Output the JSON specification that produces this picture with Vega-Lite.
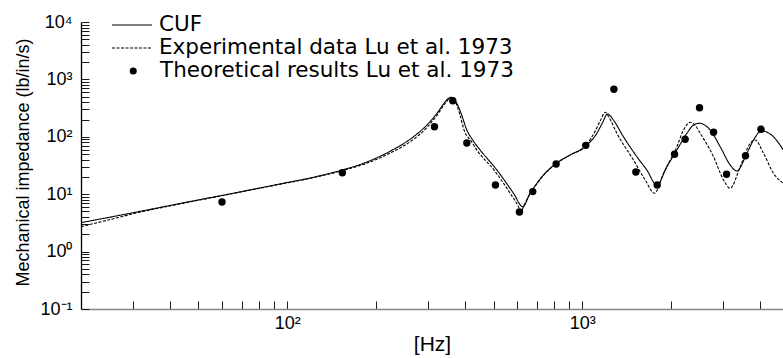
{
  "$schema": "https://vega.github.io/schema/vega-lite/v6.json",
  "width": 702,
  "height": 287,
  "autosize": {"type": "none"},
  "padding": {"left": 81, "top": 22, "right": 0, "bottom": 49},
  "background": "white",
  "config": {
    "view": {"stroke": null},
    "axis": {
      "grid": false,
      "labelFont": "Liberation Sans",
      "labelFontSize": 18,
      "labelColor": "black",
      "titleFont": "Liberation Sans",
      "titleFontWeight": "normal",
      "titleColor": "black",
      "labelOverlap": false,
      "labelFlush": false
    }
  },
  "datasets": {
    "curves": [
      {"series": "CUF", "f": 20, "z": 3.19},
      {"series": "CUF", "f": 30, "z": 4.75},
      {"series": "CUF", "f": 40, "z": 6.35},
      {"series": "CUF", "f": 50, "z": 7.95},
      {"series": "CUF", "f": 60, "z": 9.5},
      {"series": "CUF", "f": 75, "z": 11.9},
      {"series": "CUF", "f": 94.5, "z": 15.1},
      {"series": "CUF", "f": 122.6, "z": 19.7},
      {"series": "CUF", "f": 139.6, "z": 23.2},
      {"series": "CUF", "f": 153.8, "z": 26.5},
      {"series": "CUF", "f": 181.1, "z": 34.5},
      {"series": "CUF", "f": 223.1, "z": 56},
      {"series": "CUF", "f": 267.6, "z": 100},
      {"series": "CUF", "f": 297.2, "z": 160},
      {"series": "CUF", "f": 321.2, "z": 255},
      {"series": "CUF", "f": 342.7, "z": 405},
      {"series": "CUF", "f": 352, "z": 470},
      {"series": "CUF", "f": 360, "z": 488},
      {"series": "CUF", "f": 366, "z": 460},
      {"series": "CUF", "f": 375.5, "z": 383},
      {"series": "CUF", "f": 390, "z": 240},
      {"series": "CUF", "f": 406.1, "z": 131},
      {"series": "CUF", "f": 425, "z": 88},
      {"series": "CUF", "f": 450.4, "z": 58.9},
      {"series": "CUF", "f": 513.2, "z": 26.4},
      {"series": "CUF", "f": 584.2, "z": 10.4},
      {"series": "CUF", "f": 628.5, "z": 6.06},
      {"series": "CUF", "f": 665.4, "z": 10.5},
      {"series": "CUF", "f": 679.5, "z": 12.3},
      {"series": "CUF", "f": 738.3, "z": 21.6},
      {"series": "CUF", "f": 815.2, "z": 34.5},
      {"series": "CUF", "f": 908.9, "z": 48.2},
      {"series": "CUF", "f": 1027.7, "z": 69.1},
      {"series": "CUF", "f": 1119.8, "z": 115},
      {"series": "CUF", "f": 1170, "z": 175},
      {"series": "CUF", "f": 1216.5, "z": 250},
      {"series": "CUF", "f": 1240, "z": 235},
      {"series": "CUF", "f": 1274.7, "z": 196},
      {"series": "CUF", "f": 1378.4, "z": 100},
      {"series": "CUF", "f": 1530, "z": 45},
      {"series": "CUF", "f": 1654, "z": 26.4},
      {"series": "CUF", "f": 1788.6, "z": 14.5},
      {"series": "CUF", "f": 1933.8, "z": 30.1},
      {"series": "CUF", "f": 2091, "z": 58.9},
      {"series": "CUF", "f": 2260.7, "z": 115},
      {"series": "CUF", "f": 2380, "z": 160},
      {"series": "CUF", "f": 2494.7, "z": 172},
      {"series": "CUF", "f": 2600, "z": 160},
      {"series": "CUF", "f": 2712, "z": 131},
      {"series": "CUF", "f": 2932, "z": 67.2},
      {"series": "CUF", "f": 3170, "z": 32.3},
      {"series": "CUF", "f": 3339, "z": 25.4},
      {"series": "CUF", "f": 3611, "z": 51.6},
      {"series": "CUF", "f": 3802, "z": 88},
      {"series": "CUF", "f": 4060, "z": 128},
      {"series": "CUF", "f": 4200, "z": 122},
      {"series": "CUF", "f": 4445, "z": 100},
      {"series": "CUF", "f": 4795, "z": 58.9},
      {"series": "Experimental data Lu et al. 1973", "f": 20, "z": 2.72},
      {"series": "Experimental data Lu et al. 1973", "f": 25, "z": 3.6},
      {"series": "Experimental data Lu et al. 1973", "f": 30, "z": 4.55},
      {"series": "Experimental data Lu et al. 1973", "f": 40, "z": 6.25},
      {"series": "Experimental data Lu et al. 1973", "f": 50, "z": 7.85},
      {"series": "Experimental data Lu et al. 1973", "f": 60, "z": 9.4},
      {"series": "Experimental data Lu et al. 1973", "f": 75, "z": 11.8},
      {"series": "Experimental data Lu et al. 1973", "f": 94.5, "z": 14.9},
      {"series": "Experimental data Lu et al. 1973", "f": 122.6, "z": 19.4},
      {"series": "Experimental data Lu et al. 1973", "f": 153.8, "z": 25.8},
      {"series": "Experimental data Lu et al. 1973", "f": 181.1, "z": 33},
      {"series": "Experimental data Lu et al. 1973", "f": 223.1, "z": 52},
      {"series": "Experimental data Lu et al. 1973", "f": 267.6, "z": 90},
      {"series": "Experimental data Lu et al. 1973", "f": 297.2, "z": 145},
      {"series": "Experimental data Lu et al. 1973", "f": 321.2, "z": 235},
      {"series": "Experimental data Lu et al. 1973", "f": 342.7, "z": 380},
      {"series": "Experimental data Lu et al. 1973", "f": 355, "z": 465},
      {"series": "Experimental data Lu et al. 1973", "f": 362, "z": 480},
      {"series": "Experimental data Lu et al. 1973", "f": 370, "z": 420},
      {"series": "Experimental data Lu et al. 1973", "f": 384, "z": 250},
      {"series": "Experimental data Lu et al. 1973", "f": 398, "z": 128},
      {"series": "Experimental data Lu et al. 1973", "f": 420, "z": 84},
      {"series": "Experimental data Lu et al. 1973", "f": 441, "z": 57},
      {"series": "Experimental data Lu et al. 1973", "f": 503, "z": 26},
      {"series": "Experimental data Lu et al. 1973", "f": 572, "z": 10},
      {"series": "Experimental data Lu et al. 1973", "f": 606, "z": 6.2},
      {"series": "Experimental data Lu et al. 1973", "f": 618.8, "z": 4.96},
      {"series": "Experimental data Lu et al. 1973", "f": 635, "z": 6.5},
      {"series": "Experimental data Lu et al. 1973", "f": 665.4, "z": 10.2},
      {"series": "Experimental data Lu et al. 1973", "f": 690, "z": 13.5},
      {"series": "Experimental data Lu et al. 1973", "f": 738.3, "z": 21.3},
      {"series": "Experimental data Lu et al. 1973", "f": 815.2, "z": 34},
      {"series": "Experimental data Lu et al. 1973", "f": 908.9, "z": 48},
      {"series": "Experimental data Lu et al. 1973", "f": 1027.7, "z": 70},
      {"series": "Experimental data Lu et al. 1973", "f": 1100, "z": 120},
      {"series": "Experimental data Lu et al. 1973", "f": 1150, "z": 190},
      {"series": "Experimental data Lu et al. 1973", "f": 1195, "z": 267},
      {"series": "Experimental data Lu et al. 1973", "f": 1230, "z": 220},
      {"series": "Experimental data Lu et al. 1973", "f": 1309, "z": 115},
      {"series": "Experimental data Lu et al. 1973", "f": 1490, "z": 39.4},
      {"series": "Experimental data Lu et al. 1973", "f": 1633, "z": 17.7},
      {"series": "Experimental data Lu et al. 1973", "f": 1755.7, "z": 10.4},
      {"series": "Experimental data Lu et al. 1973", "f": 1883.5, "z": 23.1},
      {"series": "Experimental data Lu et al. 1973", "f": 2091, "z": 67.2},
      {"series": "Experimental data Lu et al. 1973", "f": 2201.7, "z": 131},
      {"series": "Experimental data Lu et al. 1973", "f": 2319.7, "z": 179},
      {"series": "Experimental data Lu et al. 1973", "f": 2420, "z": 155},
      {"series": "Experimental data Lu et al. 1973", "f": 2508.6, "z": 115},
      {"series": "Experimental data Lu et al. 1973", "f": 2784, "z": 45},
      {"series": "Experimental data Lu et al. 1973", "f": 3008.5, "z": 17.7},
      {"series": "Experimental data Lu et al. 1973", "f": 3170, "z": 12.7},
      {"series": "Experimental data Lu et al. 1973", "f": 3427, "z": 30.1},
      {"series": "Experimental data Lu et al. 1973", "f": 3706, "z": 77.1},
      {"series": "Experimental data Lu et al. 1973", "f": 3853, "z": 88},
      {"series": "Experimental data Lu et al. 1973", "f": 4111, "z": 51.6},
      {"series": "Experimental data Lu et al. 1973", "f": 4445, "z": 23.1},
      {"series": "Experimental data Lu et al. 1973", "f": 4795, "z": 15.5}
    ],
    "theory": [
      {"series": "Theoretical results Lu et al. 1973", "f": 60.1, "z": 7.3},
      {"series": "Theoretical results Lu et al. 1973", "f": 153.7, "z": 23.7},
      {"series": "Theoretical results Lu et al. 1973", "f": 315.4, "z": 150},
      {"series": "Theoretical results Lu et al. 1973", "f": 363.9, "z": 425},
      {"series": "Theoretical results Lu et al. 1973", "f": 406, "z": 78},
      {"series": "Theoretical results Lu et al. 1973", "f": 507.6, "z": 14.5},
      {"series": "Theoretical results Lu et al. 1973", "f": 612, "z": 4.9},
      {"series": "Theoretical results Lu et al. 1973", "f": 679, "z": 11.1},
      {"series": "Theoretical results Lu et al. 1973", "f": 815, "z": 33.6},
      {"series": "Theoretical results Lu et al. 1973", "f": 1027, "z": 71},
      {"series": "Theoretical results Lu et al. 1973", "f": 1279, "z": 672},
      {"series": "Theoretical results Lu et al. 1973", "f": 1518, "z": 24.4},
      {"series": "Theoretical results Lu et al. 1973", "f": 1793, "z": 14.5},
      {"series": "Theoretical results Lu et al. 1973", "f": 2053, "z": 49.6},
      {"series": "Theoretical results Lu et al. 1973", "f": 2230, "z": 90.4},
      {"series": "Theoretical results Lu et al. 1973", "f": 2495, "z": 321},
      {"series": "Theoretical results Lu et al. 1973", "f": 2784, "z": 120},
      {"series": "Theoretical results Lu et al. 1973", "f": 3081, "z": 22.2},
      {"series": "Theoretical results Lu et al. 1973", "f": 3572, "z": 46.9},
      {"series": "Theoretical results Lu et al. 1973", "f": 4030, "z": 135}
    ]
  },
  "encoding": {
    "x": {
      "field": "f",
      "type": "quantitative",
      "scale": {"type": "log", "domain": [20, 4786], "nice": false},
      "axis": {
        "title": "[Hz]",
        "titleFontSize": 21,
        "titleBaseline": "alphabetic",
        "titleY": 41,
        "values": [30, 40, 50, 60, 70, 80, 90, 100, 200, 300, 400, 500, 600, 700, 800, 900, 1000, 2000, 3000, 4000],
        "labelExpr": "datum.value == 100 ? '10²' : datum.value == 1000 ? '10³' : ''",
        "ticks": true,
        "tickSize": -8,
        "tickColor": "#1a1a1a",
        "tickWidth": 1,
        "labelPadding": 13,
        "domainColor": "#888",
        "domainWidth": 1.6
      }
    },
    "y": {
      "field": "z",
      "type": "quantitative",
      "scale": {"type": "log", "domain": [0.1, 10000], "nice": false},
      "axis": {
        "title": "Mechanical impedance (lb/in/s)",
        "titleFontSize": 18,
        "titleBaseline": "alphabetic",
        "titleX": -53,
        "titleY": 140,
        "values": [0.1, 0.2, 0.3, 0.4, 0.5, 0.6, 0.7, 0.8, 0.9, 1, 2, 3, 4, 5, 6, 7, 8, 9, 10, 20, 30, 40, 50, 60, 70, 80, 90, 100, 200, 300, 400, 500, 600, 700, 800, 900, 1000, 2000, 3000, 4000, 5000, 6000, 7000, 8000, 9000, 10000],
        "labelExpr": "abs(log(datum.value)/LN10 - round(log(datum.value)/LN10)) < 0.001 ? '10' + ['⁻¹','⁰','¹','²','³','⁴'][round(log(datum.value)/LN10) + 1] : ''",
        "ticks": true,
        "tickSize": -8,
        "tickColor": "#1a1a1a",
        "tickWidth": 1,
        "labelPadding": 17,
        "domainColor": "#000",
        "domainWidth": 1.3
      }
    }
  },
  "layer": [
    {
      "data": {"name": "curves"},
      "mark": {"type": "line", "interpolate": "monotone", "color": "black", "strokeWidth": 1.1, "clip": true},
      "encoding": {
        "strokeDash": {
          "field": "series",
          "type": "nominal",
          "scale": {
            "domain": ["CUF", "Experimental data Lu et al. 1973"],
            "range": [[1, 0], [3, 1.5]]
          },
          "legend": {
            "title": null,
            "orient": "none",
            "legendX": 30,
            "legendY": -8.5,
            "padding": 0,
            "symbolType": "stroke",
            "symbolSize": 1600,
            "symbolStrokeColor": "black",
            "symbolStrokeWidth": 1.1,
            "symbolOffset": 0,
            "labelOffset": 6,
            "clipHeight": 23,
            "rowPadding": 0,
            "labelFont": "DejaVu Sans",
            "labelFontSize": 21.5,
            "labelColor": "black",
            "labelLimit": 700
          }
        }
      }
    },
    {
      "data": {"name": "theory"},
      "mark": {"type": "point", "filled": true, "color": "black", "size": 55, "opacity": 1, "shape": "circle"},
      "encoding": {
        "shape": {
          "field": "series",
          "type": "nominal",
          "scale": {"domain": ["Theoretical results Lu et al. 1973"], "range": ["circle"]},
          "legend": {
            "title": null,
            "orient": "none",
            "legendX": 30,
            "legendY": 37.5,
            "padding": 0,
            "symbolSize": 50,
            "symbolFillColor": "black",
            "symbolStrokeColor": "black",
            "symbolStrokeWidth": 0,
            "symbolOffset": 11.5,
            "labelOffset": 16,
            "clipHeight": 23,
            "rowPadding": 0,
            "labelFont": "DejaVu Sans",
            "labelFontSize": 21.5,
            "labelColor": "black",
            "labelLimit": 700
          }
        }
      }
    }
  ]
}
